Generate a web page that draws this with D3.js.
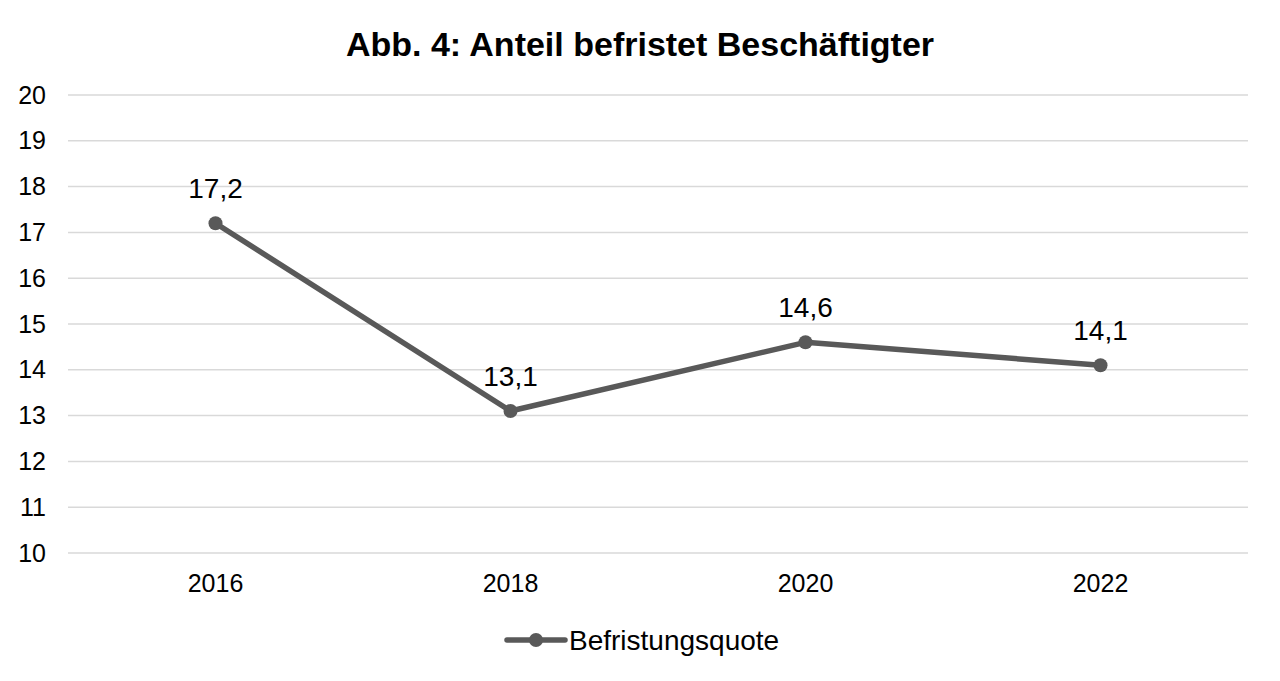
<!DOCTYPE html>
<html>
<head>
<meta charset="utf-8">
<script src="https://cdn.jsdelivr.net/npm/d3@7"></script>
<style>
  body { margin: 0; background: #fff; }
  text { font-family: "Liberation Sans", Arial, sans-serif; fill: #000; }
</style>
</head>
<body>
<svg id="chart" width="1280" height="681"></svg>
<script>
// values
const years = ["2016", "2018", "2020", "2022"];
const quote = [17.2, 13.1, 14.6, 14.1];
const yTicks = [10, 11, 12, 13, 14, 15, 16, 17, 18, 19, 20];
const seriesName = "Befristungsquote";
const title = "Abb. 4: Anteil befristet Beschäftigter";

const svg = d3.select("#chart");
const lineColor = "#595959";
const gridColor = "#d9d9d9";

const x = d3.scaleBand().domain(years).range([68, 1248]);
const y = d3.scaleLinear().domain([10, 20]).range([553, 95]);
const fmt = v => d3.format(".1f")(v).replace(".", ",");

svg.append("text")
  .attr("x", 640).attr("y", 56)
  .attr("text-anchor", "middle")
  .style("font-size", "34px").style("font-weight", "bold")
  .text(title);

// gridlines
svg.append("g").selectAll("line").data(yTicks).enter().append("line")
  .attr("x1", 68).attr("x2", 1248)
  .attr("y1", d => y(d)).attr("y2", d => y(d))
  .attr("stroke", gridColor).attr("stroke-width", 1.5);

// y axis labels
const yAxis = svg.append("g").attr("transform", "translate(46,0)")
  .call(d3.axisLeft(y).tickValues(yTicks).tickSize(0).tickPadding(0));
yAxis.select(".domain").remove();
yAxis.selectAll("text").style("font-size", "25px").attr("font-family", null);

// x axis labels
const xAxis = svg.append("g").attr("transform", "translate(0,553)")
  .call(d3.axisBottom(x).tickSize(0).tickPadding(21));
xAxis.select(".domain").remove();
xAxis.selectAll("text").style("font-size", "25px").attr("font-family", null);

const pts = years.map((yr, i) => ({ yr: yr, v: quote[i] }));
const cx = d => x(d.yr) + x.bandwidth() / 2;

svg.append("path").datum(pts)
  .attr("fill", "none").attr("stroke", lineColor).attr("stroke-width", 5.5)
  .attr("stroke-linejoin", "round")
  .attr("d", d3.line().x(cx).y(d => y(d.v)));

svg.append("g").selectAll("circle").data(pts).enter().append("circle")
  .attr("cx", cx).attr("cy", d => y(d.v)).attr("r", 7)
  .attr("fill", lineColor);

svg.append("g").selectAll("text").data(pts).enter().append("text")
  .attr("x", cx).attr("y", d => y(d.v) - 25)
  .attr("text-anchor", "middle")
  .style("font-size", "28px")
  .text(d => fmt(d.v));

// legend
const lg = svg.append("g").attr("transform", "translate(507,640)");
lg.append("line").attr("x1", 0).attr("x2", 58).attr("y1", 0).attr("y2", 0)
  .attr("stroke", lineColor).attr("stroke-width", 5.5).attr("stroke-linecap", "round");
lg.append("circle").attr("cx", 29).attr("cy", 0).attr("r", 7).attr("fill", lineColor);
lg.append("text").attr("x", 62).attr("y", 10).style("font-size", "28px").text(seriesName);
</script>
</body>
</html>
